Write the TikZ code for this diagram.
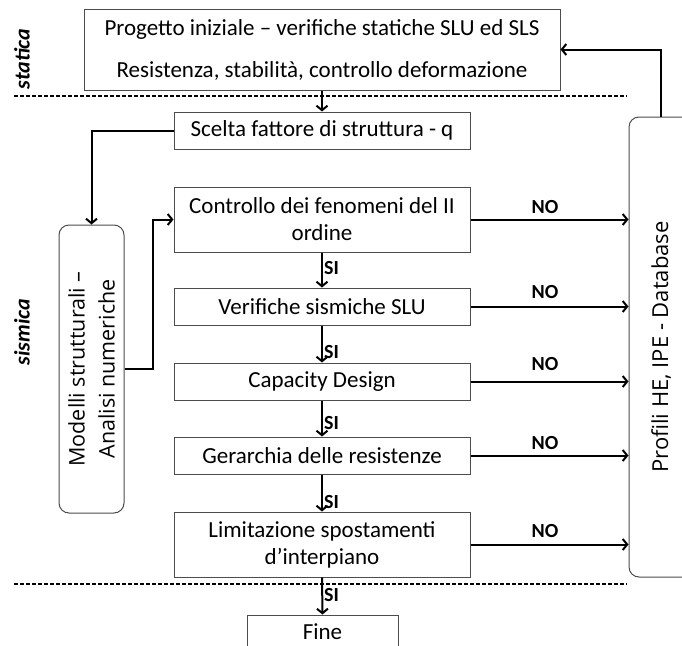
\documentclass[tikz,border=0pt]{standalone}
\usepackage{fontspec}
\setmainfont{Carlito}
\newfontfamily\osans{Open Sans}
\usetikzlibrary{arrows.meta}
\begin{document}
\begin{tikzpicture}[x=1pt,y=-1pt,
 box/.style={draw=black!70, line width=1pt, minimum width=296pt, minimum height=37pt, inner sep=0pt, font=\fontsize{23}{27}\selectfont, align=center},
 rbox/.style={draw=black!70, line width=1pt, rounded corners=10pt, inner sep=0pt},
 rtext/.style={rotate=90, font=\osans\fontsize{21.5}{30}\selectfont, align=center, inner sep=0pt},
 conn/.style={line width=2pt, -{Straight Barb[length=4.5pt,width=11pt,line width=2pt]}},
 lbl/.style={font=\bfseries\fontsize{20}{22}\selectfont, inner sep=0pt},
 zone/.style={font=\bfseries\itshape\fontsize{22}{24}\selectfont, rotate=90, inner sep=0pt},
 sep/.style={line width=1.2pt, dash pattern=on 4pt off 2pt}
]
\clip (0,0) rectangle (682,645);
\fill[white] (0,0) rectangle (682,645);

% boxes
\node[box, minimum width=476pt, minimum height=81pt] (top) at (322,49.5)
  {Progetto iniziale – verifiche statiche SLU ed SLS\\[15pt]Resistenza, stabilità, controllo deformazione};
\node[box] (scelta) at (322,130.5) {Scelta fattore di struttura - q};
\node[box, minimum height=65pt] (ctrl) at (322,219.5) {Controllo dei fenomeni del II\\ordine};
\node[box] (verif) at (322,306.5) {Verifiche sismiche SLU};
\node[box] (cap) at (322,381.5) {Capacity Design};
\node[box] (ger) at (322,455.5) {Gerarchia delle resistenze};
\node[box, minimum height=65pt] (lim) at (322,544.5) {Limitazione spostamenti\\d’interpiano};
\node[box, minimum width=151pt, minimum height=36pt, text height=12pt, text depth=0pt] (fine) at (322.5,633) {Fine};

\node[rbox, minimum width=65pt, minimum height=288pt] (mod) at (91.5,369) {};
\node[rtext] (modt) at (mod.center) {Modelli strutturali –\\Analisi numeriche};
\node[rbox, minimum width=64pt, minimum height=460pt] (prof) at (661,347) {};
\node[rtext, font=\osans\fontsize{22}{30}\selectfont] (proft) at (prof.center) {Profili HE, IPE - Database};

% zone labels and separators
\node[zone] (stat) at (22,59) {statica};
\node[zone] (sism) at (22,332) {sismica};
\draw[sep] (14,96) -- (627,96);
\draw[sep] (14,584) -- (627,584);

% connectors
\draw[conn] (top.south) -- (scelta.north);
\draw[conn] (scelta.west) -| (mod.north);
\draw[conn] (mod.east) -- ++(28,0) |- (ctrl.west);
\draw[conn] (ctrl.south) -- (verif.north);
\draw[conn] (verif.south) -- (cap.north);
\draw[conn] (cap.south) -- (ger.north);
\draw[conn] (ger.south) -- (lim.north);
\draw[conn] (lim.south) -- (fine.north);
\draw[conn] (ctrl.east) -- (ctrl.east -| prof.west);
\draw[conn] (verif.east) -- (verif.east -| prof.west);
\draw[conn] (cap.east) -- (cap.east -| prof.west);
\draw[conn] (ger.east) -- (ger.east -| prof.west);
\draw[conn] (lim.east) -- (lim.east -| prof.west);
\draw[conn] (prof.north) |- (top.east);

% labels
\node[lbl] (no1) at (545,207) {NO};
\node[lbl] (no2) at (545,292) {NO};
\node[lbl] (no3) at (545,364) {NO};
\node[lbl] (no4) at (545,443) {NO};
\node[lbl] (no5) at (545,531) {NO};
\node[lbl, anchor=west] (si1) at (324,268) {SI};
\node[lbl, anchor=west] (si2) at (324,352) {SI};
\node[lbl, anchor=west] (si3) at (324,423) {SI};
\node[lbl, anchor=west] (si4) at (324,502) {SI};
\node[lbl, anchor=west] (si5) at (324,595) {SI};
\end{tikzpicture}
\end{document}
